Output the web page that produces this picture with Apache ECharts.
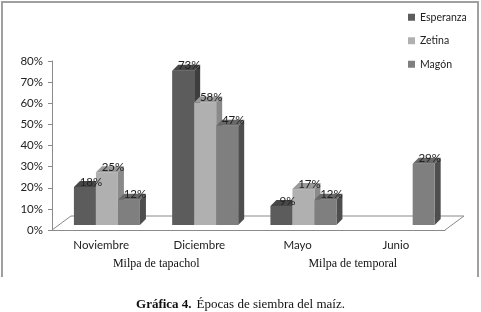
<!DOCTYPE html>
<html>
<head>
<meta charset="utf-8">
<script src="https://cdn.jsdelivr.net/npm/echarts@6/dist/echarts.min.js"></script>
<style>
    html, body { margin: 0; padding: 0; background: #fff; }
    #chart { width: 481px; height: 312px; }
</style>
</head>
<body>
<div id="chart"></div>
<script>
// datos
const categorias = ['Noviembre', 'Diciembre', 'Mayo', 'Junio']
const grupos = ['Milpa de tapachol', 'Milpa de temporal']
const esperanza = [0.18, 0.73, 0.09, null]
const zetina = [0.25, 0.58, 0.17, null]
const magon = [0.12, 0.47, 0.12, 0.29]
const nombres = ['Esperanza', 'Zetina', 'Magón']

// colores frente / tapa / lado
const colores = [
    ['#5c5c5c', '#474747', '#3e3e3e'],
    ['#b0b0b0', '#9a9a9a', '#8a8a8a'],
    ['#7f7f7f', '#686868', '#4e4e4e']
]

const fuente = 'Lato, "Noto Sans", sans-serif'

const barra = (k) => (params, api) => {
    let cat = api.value(0)
    let val = api.value(1)
    if (val == null || isNaN(val)) return
    let base = api.coord([cat, 0])
    let top = api.coord([cat, val])
    let catW = api.size([1, 0])[0]
    let bw = catW * 0.224
    let x0 = base[0] - catW * 0.277 + k * bw
    let lift = 5, dx = 6, dy = 6
    let y0 = base[1] - lift
    let y1 = top[1] - lift
    let c = colores[k]
    return {
        type: 'group',
        children: [
            {
                type: 'polygon',
                shape: { points: [[x0 + bw, y1], [x0 + bw + dx, y1 - dy], [x0 + bw + dx, y0 - dy], [x0 + bw, y0]] },
                style: { fill: c[2] }
            },
            {
                type: 'rect',
                shape: { x: x0, y: y1, width: bw, height: y0 - y1 },
                style: { fill: c[0] }
            },
            {
                type: 'polygon',
                shape: { points: [[x0, y1], [x0 + dx, y1 - dy], [x0 + bw + dx, y1 - dy], [x0 + bw, y1]] },
                style: { fill: c[1] }
            },
            {
                type: 'text',
                z2: 100,
                style: {
                    text: Math.round(val * 100) + '%',
                    x: x0 + bw / 2 + 6,
                    y: y1 - 5,
                    align: 'center',
                    verticalAlign: 'middle',
                    fill: '#222',
                    font: '11.5px ' + fuente
                }
            }
        ]
    }
}

const piso = (params, api) => {
    let catW = api.size([1, 0])[0]
    let a = api.coord([0, 0])
    let b = api.coord([categorias.length - 1, 0])
    let left = a[0] - catW / 2
    let right = b[0] + catW / 2
    let y = a[1]
    let dx = 19, dy = 14
    return {
        type: 'polyline',
        shape: { points: [[left, y], [left + dx, y - dy], [right + dx, y - dy], [right, y]] },
        style: { stroke: '#8a8a8a', lineWidth: 1, fill: null }
    }
}

const serie = (nombre, valores, k) => ({
    name: nombre,
    type: 'custom',
    renderItem: barra(k),
    itemStyle: { color: colores[k][0] },
    encode: { x: 0, y: 1 },
    data: valores.map((v, i) => [i, v == null ? '-' : v])
})

onload = () => {
    let myChart = echarts.init(document.getElementById('chart'))
    let option = {
        animation: false,
        backgroundColor: '#fff',
        title: {
            text: '{b|Gráfica 4.} {n|Épocas de siembra del maíz.}',
            left: 'center',
            top: 291,
            textStyle: {
                fontWeight: 'normal',
                rich: {
                    b: { fontFamily: '"Liberation Serif", serif', fontWeight: 'bold', fontSize: 13, color: '#111' },
                    n: { fontFamily: '"Liberation Serif", serif', fontWeight: 'normal', fontSize: 13, color: '#111' }
                }
            }
        },
        legend: {
            data: nombres,
            orient: 'vertical',
            left: 403,
            top: 6,
            itemWidth: 7,
            itemHeight: 7,
            itemGap: 11,
            icon: 'rect',
            textStyle: { fontFamily: fuente, fontSize: 10.5, color: '#222', lineHeight: 12.5 }
        },
        graphic: [
            {
                type: 'polyline',
                silent: true,
                shape: { points: [[2, 277], [2, 2], [478, 2], [478, 277]] },
                style: { stroke: '#a0a0a0', lineWidth: 2, fill: null }
            }
        ],
        grid: { left: 52, right: 36, top: 61, bottom: 82 },
        xAxis: [
            {
                type: 'category',
                data: categorias,
                axisLine: { lineStyle: { color: '#8a8a8a' } },
                axisTick: { length: 4, lineStyle: { color: '#8a8a8a' } },
                axisLabel: { margin: 9, fontFamily: fuente, fontSize: 11.5, color: '#222' }
            },
            {
                type: 'category',
                data: grupos,
                position: 'bottom',
                offset: 20,
                axisLine: { show: false },
                axisTick: { show: false },
                axisLabel: {
                    margin: 8,
                    padding: [0, 0, 0, 12],
                    fontFamily: '"Liberation Serif", serif',
                    fontSize: 12,
                    color: '#111'
                }
            }
        ],
        yAxis: {
            type: 'value',
            min: 0,
            max: 0.8,
            interval: 0.1,
            axisLine: { show: true, lineStyle: { color: '#8a8a8a' } },
            axisTick: { show: true, length: 4, lineStyle: { color: '#8a8a8a' } },
            splitLine: { show: false },
            axisLabel: {
                margin: 9,
                fontFamily: fuente,
                fontSize: 11.5,
                color: '#222',
                formatter: (v) => Math.round(v * 100) + '%'
            }
        },
        series: [
            {
                type: 'custom',
                silent: true,
                z: 1,
                renderItem: piso,
                encode: { x: 0, y: 1 },
                data: [[0, 0]]
            },
            serie(nombres[0], esperanza, 0),
            serie(nombres[1], zetina, 1),
            serie(nombres[2], magon, 2)
        ]
    }
    option && myChart.setOption(option)
}
</script>
</body>
</html>
